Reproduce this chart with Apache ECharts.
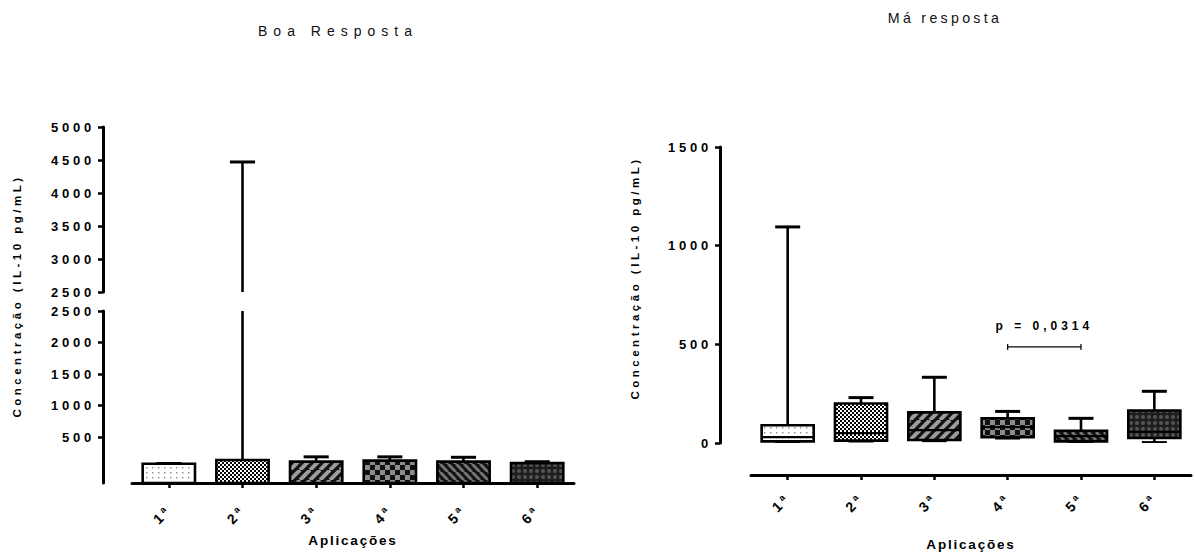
<!DOCTYPE html>
<html>
<head>
<meta charset="utf-8">
<script src="https://cdn.jsdelivr.net/npm/echarts@6/dist/echarts.min.js"></script>
<style>
  html, body { margin: 0; padding: 0; background: #fff; }
  #chart { width: 1195px; height: 558px; }
  /* wide tracking, GraphPad-like */
  #chart text[style*="14px"] { letter-spacing: 6px; }
  #chart text[style*="14px"][style*="bold"] { letter-spacing: 3px; }
  #chart text[style*="14.2px"] { letter-spacing: 3.3px; }
  #chart text[style*="13px"][style*="bold"] { letter-spacing: 3.8px; }
  #chart text[style*="13.5px"] { letter-spacing: 1.8px; }
  #chart text[style*="12px"][style*="bold"] { letter-spacing: 4px; }
  #chart text[style*="11.5px"] { letter-spacing: 3.5px; }
</style>
</head>
<body>
<div id="chart"></div>
<script>
// ---- data ----
const categories = ['1ª', '2ª', '3ª', '4ª', '5ª', '6ª'];

// Boa Resposta (lower part of each box sits on the baseline)
const boaMin    = [-230, -230, -230, -230, -230, -230];
const boaQ1     = [-230, -230, -230, -230, -230, -230];
const boaMedian = [-230, -230, -230, -230, -230, -230];
const boaQ3     = [75, 135, 110, 125, 110, 85];
const boaMax    = [80, 4470, 185, 185, 178, 108];

// Má resposta
const maMin    = [3, 10, 12, 25, 3, 2];
const maQ1     = [8, 12, 15, 30, 8, 25];
const maMedian = [30, 50, 65, 80, 35, 57];
const maQ3     = [90, 200, 155, 125, 62, 165];
const maMax    = [1095, 230, 333, 160, 125, 262];

const lowerTicks = [500, 1000, 1500, 2000, 2500];

const bracketCategories = ['4ª', '5ª'];
const bracketValue = 487;
const pLabel = 'p = 0,0314';

const FONT = "'Liberation Sans', Arial, sans-serif";

// ---- fill patterns ----
function tile(w, h, draw) {
  const c = document.createElement('canvas');
  c.width = w; c.height = h;
  const g = c.getContext('2d');
  draw(g, w, h);
  return { image: c, repeat: 'repeat', imageWidth: w, imageHeight: h };
}
const patterns = [
  tile(6, 5, (g, w, h) => { g.fillStyle = '#fff'; g.fillRect(0, 0, w, h); g.fillStyle = '#8a8a8a'; g.fillRect(2, 2, 1.4, 1.4); }),
  tile(4, 4, (g, w, h) => { g.fillStyle = '#fff'; g.fillRect(0, 0, w, h); g.fillStyle = '#000'; g.fillRect(0, 0, 2, 2); g.fillRect(2, 2, 2, 2); }),
  tile(10, 10, (g, w, h) => {
    g.fillStyle = '#111'; g.fillRect(0, 0, w, h);
    g.strokeStyle = '#9c9c9c'; g.lineWidth = 4;
    [-10, 0, 10].forEach(o => { g.beginPath(); g.moveTo(o, 10); g.lineTo(o + 10, 0); g.stroke(); });
  }),
  tile(10, 10, (g, w, h) => { g.fillStyle = '#111'; g.fillRect(0, 0, w, h); g.fillStyle = '#8c8c8c'; g.fillRect(0, 0, 5, 5); g.fillRect(5, 5, 5, 5); }),
  tile(8, 8, (g, w, h) => {
    g.fillStyle = '#111'; g.fillRect(0, 0, w, h);
    g.strokeStyle = '#727272'; g.lineWidth = 3;
    [-8, 0, 8].forEach(o => { g.beginPath(); g.moveTo(o, 0); g.lineTo(o + 8, 8); g.stroke(); });
  }),
  tile(6, 6, (g, w, h) => {
    g.fillStyle = '#1e1e1e'; g.fillRect(0, 0, w, h);
    g.fillStyle = '#555'; g.beginPath(); g.arc(3, 3, 2, 0, Math.PI * 2); g.fill();
  })
];

// ---- box-and-whisker item ----
function renderBox(params, api) {
  const i = api.value(0);
  const lo = api.coord([i, api.value(1)]);
  const q1 = api.coord([i, api.value(2)]);
  const md = api.coord([i, api.value(3)]);
  const q3 = api.coord([i, api.value(4)]);
  const hi = api.coord([i, api.value(5)]);
  const bw = api.size([1, 0])[0] * 0.71;
  const cw = bw * 0.48;
  const x = q3[0];
  const line = { stroke: '#000', lineWidth: 2.6 };
  const cap = { stroke: '#000', lineWidth: 3 };
  return {
    type: 'group',
    children: [
      { type: 'line', shape: { x1: x, y1: q3[1], x2: x, y2: hi[1] }, style: line },
      { type: 'line', shape: { x1: x - cw / 2, y1: hi[1], x2: x + cw / 2, y2: hi[1] }, style: cap },
      { type: 'line', shape: { x1: x, y1: q1[1], x2: x, y2: lo[1] }, style: line },
      { type: 'line', shape: { x1: x - cw / 2, y1: lo[1], x2: x + cw / 2, y2: lo[1] }, style: cap },
      { type: 'rect', shape: { x: x - bw / 2, y: q3[1], width: bw, height: q1[1] - q3[1] },
        style: { fill: patterns[params.dataIndex], stroke: '#000', lineWidth: 2.6 } },
      { type: 'line', shape: { x1: x - bw / 2, y1: md[1], x2: x + bw / 2, y2: md[1] }, style: { stroke: '#000', lineWidth: 2.2 } }
    ]
  };
}

function renderBracket(params, api) {
  const a = api.coord([api.value(0), api.value(2)]);
  const b = api.coord([api.value(1), api.value(2)]);
  const s = { stroke: '#000', lineWidth: 1.2 };
  return {
    type: 'group',
    children: [
      { type: 'line', shape: { x1: a[0], y1: a[1], x2: b[0], y2: b[1] }, style: s },
      { type: 'line', shape: { x1: a[0], y1: a[1] - 3, x2: a[0], y2: a[1] + 3 }, style: s },
      { type: 'line', shape: { x1: b[0], y1: b[1] - 3, x2: b[0], y2: b[1] + 3 }, style: s },
      { type: 'text', x: (a[0] + b[0]) / 2, y: a[1] - 21,
        style: { text: pLabel, fill: '#000', font: 'bold 12px ' + FONT, textAlign: 'center', textVerticalAlign: 'middle' } }
    ]
  };
}

const boaData = categories.map((c, i) => [i, boaMin[i], boaQ1[i], boaMedian[i], boaQ3[i], boaMax[i]]);
const maData = categories.map((c, i) => [i, maMin[i], maQ1[i], maMedian[i], maQ3[i], maMax[i]]);
const bracketData = [[categories.indexOf(bracketCategories[0]), categories.indexOf(bracketCategories[1]), bracketValue]];

// ---- axes ----
const yAxisLine = { show: true, onZero: false, lineStyle: { color: '#000', width: 3 } };
const yTick = { show: true, length: 5, lineStyle: { color: '#000', width: 2.5 } };
const yLabel = { color: '#000', fontWeight: 'bold', fontSize: 13, fontFamily: FONT, margin: 8,
  showMinLabel: true, showMaxLabel: true, formatter: v => String(v) };
function catAxis(gridIndex, offset, labelMargin, nameGap) {
  return {
    gridIndex, type: 'category', data: categories, offset, position: 'bottom',
    axisLine: { show: true, onZero: false, lineStyle: { color: '#000', width: 3 } },
    axisTick: { show: true, alignWithLabel: true, length: 5, lineStyle: { color: '#000', width: 2.5 } },
    axisLabel: { rotate: 45, margin: labelMargin, color: '#000', fontWeight: 'bold', fontSize: 14, fontFamily: FONT, interval: 0 },
    splitLine: { show: false },
    name: 'Aplicações', nameLocation: 'middle', nameGap,
    nameTextStyle: { color: '#000', fontWeight: 'bold', fontSize: 13.5, fontFamily: FONT }
  };
}

const chart = echarts.init(document.getElementById('chart'), null, { renderer: 'svg' });
chart.setOption({
  animation: false,
  backgroundColor: '#fff',
  textStyle: { fontFamily: FONT },
  grid: [
    { left: 132, top: 127, width: 442, height: 165 },
    { left: 132, top: 311, width: 442, height: 172 },
    { left: 751, top: 147, width: 440, height: 296 }
  ],
  xAxis: [
    { gridIndex: 0, type: 'category', data: categories, show: false },
    catAxis(1, 0, 25, 50),
    catAxis(2, 32, 21, 62)
  ],
  yAxis: [
    { gridIndex: 0, type: 'value', min: 2500, max: 5000, interval: 500, offset: 29,
      axisLine: yAxisLine, axisTick: yTick, axisLabel: yLabel, splitLine: { show: false } },
    { gridIndex: 1, type: 'value', min: -230, max: 2500, offset: 29,
      axisLine: yAxisLine,
      axisTick: Object.assign({}, yTick, { customValues: lowerTicks }),
      axisLabel: Object.assign({}, yLabel, { customValues: lowerTicks }),
      splitLine: { show: false } },
    { gridIndex: 2, type: 'value', min: 0, max: 1500, interval: 500, offset: 31,
      axisLine: yAxisLine, axisTick: yTick, axisLabel: yLabel, splitLine: { show: false } }
  ],
  series: [
    { type: 'custom', xAxisIndex: 0, yAxisIndex: 0, clip: true, data: boaData,
      encode: { x: 0, y: [1, 2, 3, 4, 5] }, renderItem: renderBox },
    { type: 'custom', xAxisIndex: 1, yAxisIndex: 1, clip: true, data: boaData,
      encode: { x: 0, y: [1, 2, 3, 4, 5] }, renderItem: renderBox },
    { type: 'custom', xAxisIndex: 2, yAxisIndex: 2, clip: true, data: maData,
      encode: { x: 0, y: [1, 2, 3, 4, 5] }, renderItem: renderBox },
    { type: 'custom', xAxisIndex: 2, yAxisIndex: 2, data: bracketData,
      encode: { x: [0, 1], y: 2 }, renderItem: renderBracket }
  ],
  graphic: [
    { type: 'text', x: 338, y: 31, style: { text: 'Boa Resposta', fill: '#111', font: '14px ' + FONT, textAlign: 'center', textVerticalAlign: 'middle' } },
    { type: 'text', x: 945, y: 18, style: { text: 'Má resposta', fill: '#111', font: '14.2px ' + FONT, textAlign: 'center', textVerticalAlign: 'middle' } },
    { type: 'text', x: 17, y: 296, rotation: Math.PI / 2, style: { text: 'Concentração (IL-10 pg/mL)', fill: '#000', font: 'bold 11.5px ' + FONT, textAlign: 'center', textVerticalAlign: 'middle' } },
    { type: 'text', x: 635, y: 278, rotation: Math.PI / 2, style: { text: 'Concentração (IL-10 pg/mL)', fill: '#000', font: 'bold 11.5px ' + FONT, textAlign: 'center', textVerticalAlign: 'middle' } }
  ]
});
</script>
</body>
</html>
